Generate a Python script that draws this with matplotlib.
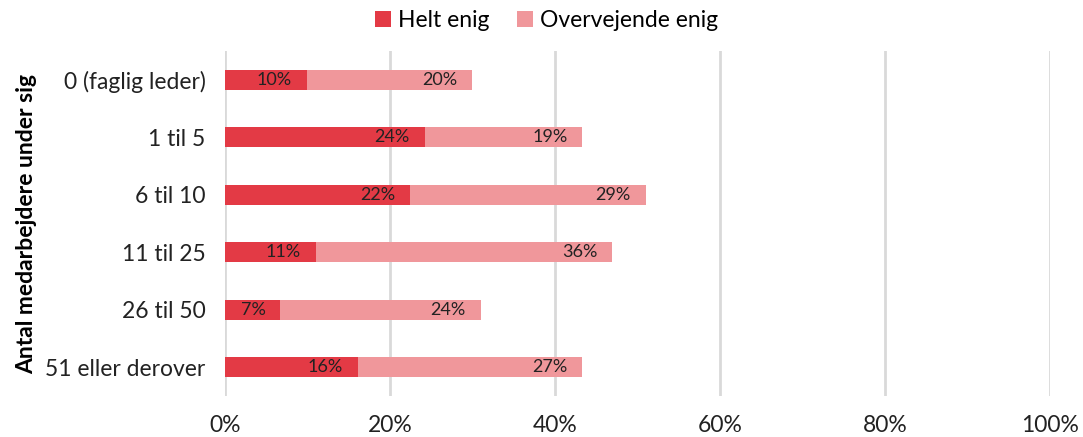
import matplotlib.pyplot as plt
import numpy as np

# data
categories = ["0 (faglig leder)", "1 til 5", "6 til 10", "11 til 25", "26 til 50", "51 eller derover"]
helt_enig = [10, 24, 22, 11, 7, 16]
overvejende_enig = [20, 19, 29, 36, 24, 27]
# exact segment lengths (labels above are rounded)
helt_len = [9.9, 24.2, 22.4, 11.0, 6.7, 16.1]
overv_len = [20.0, 19.1, 28.6, 35.9, 24.3, 27.2]

plt.rcParams['font.family'] = ['Lato', 'DejaVu Sans']

dark = '#E33A45'
light = '#F0979B'

fig = plt.figure(figsize=(10.83, 4.37), dpi=100)
ax = fig.add_axes([0.2078, 0.094, 0.7617, 0.789])

y = np.arange(len(categories))
h = 0.35
b1 = ax.barh(y, helt_len, height=h, color=dark, label='Helt enig', zorder=3)
b2 = ax.barh(y, overv_len, left=helt_len, height=h, color=light, label='Overvejende enig', zorder=3)

# value labels near the end of each segment
for i in range(len(categories)):
    ax.text(helt_len[i] - 1.8, y[i], f"{helt_enig[i]}%", ha='right', va='center',
            fontsize=13, color='#222222', zorder=4)
    ax.text(helt_len[i] + overv_len[i] - 1.8, y[i], f"{overvejende_enig[i]}%", ha='right',
            va='center', fontsize=13, color='#222222', zorder=4)

ax.set_ylim(len(categories) - 0.5, -0.5)
ax.set_xlim(0, 100)
ax.set_xticks(np.arange(0, 101, 20))
ax.set_xticklabels([f"{v}%" for v in range(0, 101, 20)])
ax.set_yticks(y)
ax.set_yticklabels(categories)
ax.tick_params(axis='both', length=0, labelsize=16.5, colors='#222222')
ax.tick_params(axis='y', pad=14)
ax.tick_params(axis='x', pad=14)
ax.grid(axis='x', color='#d9d9d9', linewidth=2, zorder=0)
for s in ax.spines.values():
    s.set_visible(False)

ax.set_ylabel('Antal medarbejdere under sig', fontsize=16.5, fontweight='bold', labelpad=6)

fig.legend(handles=[b1, b2], loc='upper center', bbox_to_anchor=(0.505, 1.025), ncol=2,
           frameon=False, fontsize=16.5, handlelength=0.7, handleheight=0.7,
           handletextpad=0.3, columnspacing=1.2)

fig.savefig('out.png', dpi=100)
